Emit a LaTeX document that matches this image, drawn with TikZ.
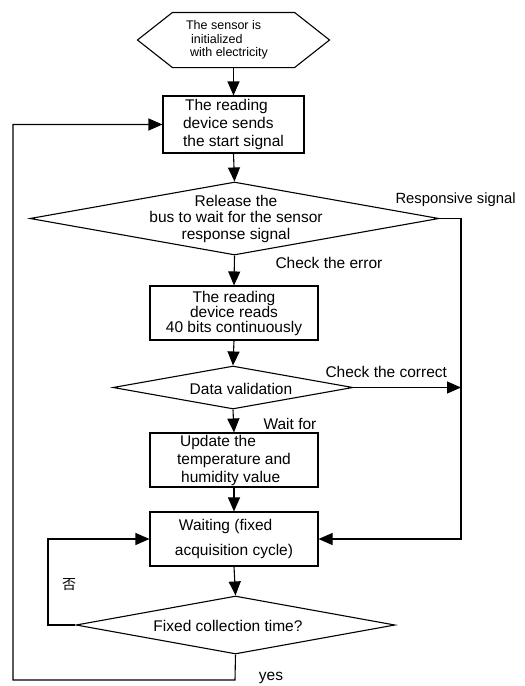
\documentclass[tikz,border=0pt]{standalone}
\usepackage{fontspec}
\setmainfont{Liberation Sans}
\newfontfamily\cjkfont{Noto Sans CJK SC}
\usetikzlibrary{arrows.meta,shapes.geometric}
\begin{document}
\begin{tikzpicture}[x=1pt,y=-1pt, line width=1.1pt,
  box/.style={draw, rectangle, minimum width=168pt, minimum height=54pt, inner sep=0pt, align=center},
  fs/.style={font=\fontsize{15.5}{#1}\selectfont},
  dia/.style={draw, diamond, inner sep=0pt},
  txt/.style={fs=18, align=center, inner sep=0pt},
  arr/.style={-{Triangle[length=14pt,width=12pt]}},
  ]
\useasboundingbox (0,0) rectangle (525,686);

% start hexagon
\node[minimum width=191pt, minimum height=54pt, inner sep=0pt] (hexn) at (233.5,40) {};
\draw (hexn.west) -- ([xshift=35pt]hexn.north west) -- ([xshift=-35pt]hexn.north east)
  -- (hexn.east) -- ([xshift=-35pt]hexn.south east) -- ([xshift=35pt]hexn.south west) -- cycle;
\node[font=\fontsize{12.5}{13.5}\selectfont, align=left, inner sep=0pt] (hext) at (227,40)
  {The sensor is\\\hspace*{5pt}initialized\\\hspace*{4pt}with electricity};

% boxes
\node[box, fs=18, minimum width=141pt, minimum height=57pt, align=left] (b1) at (233.5,124.5)
  {\hspace*{2pt}The reading\\device sends\\the start signal};
\node[dia, minimum width=409pt, minimum height=73pt] (d1) at (234.5,218.5) {};
\node[txt, fs=16.5] (d1t) at (236,218.5) {Release the\\bus to wait for the sensor\\response signal};

\node[box, fs=15] (b2) at (234,313) {The reading\\device reads\\40 bits continuously};
\node[dia, minimum width=240pt, minimum height=43pt] (d2) at (233,387.5) {};
\node[txt] (d2t) at (241,389) {Data validation};

\node[box, fs=18, align=left] (b3) at (234,460) {\hspace*{3pt}Update the\\temperature and\\\hspace*{4pt}humidity value};
\node[box, fs=25, align=left] (b4) at (234,539) {\hspace*{4pt}Waiting (fixed\\acquisition cycle)};
\node[dia, minimum width=319pt, minimum height=58pt] (d3) at (235.5,625) {};
\node[txt] (d3t) at (228,626) {Fixed collection time?};

% helper coordinates
\coordinate (rtop) at (461,218.5);
\coordinate (rbot) at (461,539);
\coordinate (rmid) at (461,387.5);
\coordinate (lbot) at (48,625);
\coordinate (ltop) at (48,539);
\coordinate (ybot) at (235,680);
\coordinate (ycor) at (13,680);
\coordinate (ytop) at (13,124.5);

% main flow
\draw[arr] (hexn.south) -- (b1.north);
\draw[arr] (b1.south) -- (d1.north);
\draw[arr] (d1.south) -- (b2.north);
\draw[arr] (b2.south) -- (d2.north);
\draw[arr] (d2.south) -- (b3.north);
\draw[arr] (b3.south) -- (b4.north);
\draw[arr] (b4.south) -- (d3.north);

% right side
\draw[arr] (d1.east) -- (rtop) -- (rbot) -- (b4.east);
\draw[arr] (d2.east) -- (rmid);
% left loops
\draw[arr] (d3.west) -- (lbot) -- (ltop) -- (b4.west);
\draw[arr] (d3.south) -- (ybot) -- (ycor) -- (ytop) -- (b1.west);

% labels
\node[txt, fs=18, font=\fontsize{14.8}{18}\selectfont, anchor=west] (lresp) at (395,200) {Responsive signal};
\node[txt, anchor=west] (lerr) at (275,263) {Check the error};
\node[txt, anchor=west] (lcor) at (325,372) {Check the correct};
\node[txt, anchor=west] (lwait) at (263,424) {Wait for};
\node[inner sep=0pt, font=\cjkfont\fontsize{14}{16}\selectfont] (lno) at (69,585) {否};
\node[txt] (lyes) at (271,678) {yes};
\end{tikzpicture}
\end{document}
